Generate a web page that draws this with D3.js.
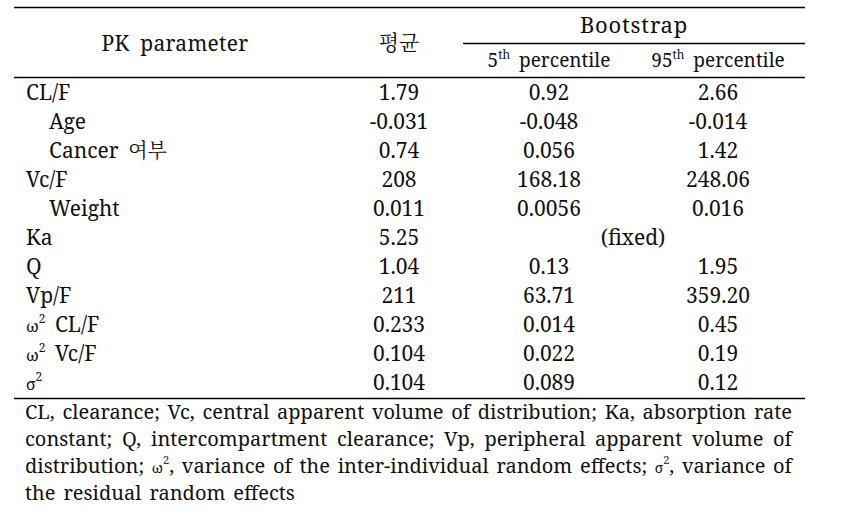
<!DOCTYPE html>
<html><head><meta charset="utf-8">
<script src="https://cdn.jsdelivr.net/npm/d3@7"></script>
<style>html,body{margin:0;padding:0;background:#fff;}svg{display:block;}</style>
</head><body>
<script>
// ---- data ----
const paramLabels = ["CL/F","Age","Cancer 여부","Vc/F","Weight","Ka","Q","Vp/F","ω^2 CL/F","ω^2 Vc/F","σ^2"];
const paramLevel  = [0,1,1,0,1,0,0,0,0,0,0];
const meanValues  = ["1.79","-0.031","0.74","208","0.011","5.25","1.04","211","0.233","0.104","0.104"];
const p5Values    = ["0.92","-0.048","0.056","168.18","0.0056",null,"0.13","63.71","0.014","0.022","0.089"];
const p95Values   = ["2.66","-0.014","1.42","248.06","0.016",null,"1.95","359.20","0.45","0.19","0.12"];
const fixedNote   = "(fixed)";
const headParam = "PK parameter", headMean = "평균", headBoot = "Bootstrap";
const headP5 = ["5","th"," percentile"], headP95 = ["95","th"," percentile"];
const footnote = "CL, clearance; Vc, central apparent volume of distribution; Ka, absorption rate constant; Q, intercompartment clearance; Vp, peripheral apparent volume of distribution; ω^2, variance of the inter-individual random effects; σ^2, variance of the residual random effects";

// ---- layout ----
const W = 843, H = 512;
const serif = '"Noto Serif", serif';
const kr = '"Noto Serif CJK KR", serif';
const fs = 21;
const svg = d3.select("body").append("svg").attr("width", W).attr("height", H);

const left = 14, right = 805;
const y = d3.scaleBand().domain(d3.range(paramLabels.length)).range([77.5, 396.5]);
const x = d3.scaleOrdinal().domain(["mean","p5","p95"]).range([399, 549, 718]);
const ink = "#111";

function line(x1, x2, yy){
  svg.append("line").attr("x1",x1).attr("x2",x2).attr("y1",yy).attr("y2",yy)
    .attr("stroke","#000").attr("stroke-width",1.3);
}
line(left, right, 7.5);
line(463, right, 43.5);
line(left, right, 77.5);
line(left, right, 398.5);

function base(cy, size){ return cy + size*0.36; }

// header
const hg = svg.append("g").style("font-family", serif).style("font-size", fs+"px").attr("fill", ink);
hg.append("text").attr("x",175).attr("y",base(43,fs)).attr("text-anchor","middle")
  .attr("word-spacing", 5).attr("letter-spacing", 0.3).text(headParam);
hg.append("text").attr("x",x("mean")).attr("y",base(42,21)).attr("text-anchor","middle")
  .style("font-family",kr).style("font-size","21px").text(headMean);
hg.append("text").attr("x",634).attr("y",base(25,22)).attr("text-anchor","middle")
  .style("font-size","22px").attr("letter-spacing",0.8).text(headBoot);
[[headP5,"p5"],[headP95,"p95"]].forEach(([parts,k])=>{
  const t = hg.append("text").attr("x",x(k)).attr("y",base(60,19)).attr("text-anchor","middle").style("font-size","19px");
  t.append("tspan").text(parts[0]);
  t.append("tspan").style("font-size","12px").attr("dy",-8).text(parts[1]);
  t.append("tspan").attr("dy",8).attr("word-spacing",4).text(parts[2]);
});

// body
const body = svg.append("g").style("font-family", serif).style("font-size", fs+"px").attr("fill", ink);
paramLabels.forEach((lab,i)=>{
  const cy = y(i) + y.bandwidth()/2;
  const t = body.append("text").attr("x", paramLevel[i] ? 49 : 26).attr("y", base(cy,fs))
    .attr("word-spacing", 4);
  if(lab.includes("여부")){
    const [a,b] = lab.split(" ");
    t.append("tspan").text(a + " ");
    t.append("tspan").style("font-family",kr).style("font-size","20px").text(b);
  } else if(lab.includes("^")){
    const m = lab.match(/^(.)\^(\d)(.*)$/);
    t.append("tspan").style("font-size","16px").text(m[1]);
    t.append("tspan").style("font-size","12px").attr("dy",-9).text(m[2]);
    if(m[3]) t.append("tspan").attr("dy",9).text(m[3]);
  } else t.text(lab);
});

const cols = [["mean",meanValues],["p5",p5Values],["p95",p95Values]];
cols.forEach(([k,vals])=>{
  body.selectAll(null).data(vals.map((v,i)=>({v,i})).filter(d=>d.v!==null)).enter()
    .append("text").attr("x", x(k)).attr("y", d=>base(y(d.i)+y.bandwidth()/2, fs))
    .attr("text-anchor","middle").text(d=>d.v);
});
p5Values.forEach((v,i)=>{
  if(v===null){
    body.append("text").attr("x",633).attr("y",base(y(i)+y.bandwidth()/2,fs))
      .attr("text-anchor","middle").text(fixedNote);
  }
});

// footnote (justified)
const fsz = 20;
const fl = 25, fr = 792;
const fn = svg.append("g").style("font-family",serif).style("font-size",fsz+"px").attr("fill",ink);
const words = footnote.split(" ");
const lineBreaks = [[0,11],[11,20],[20,31],[31,words.length]];
const lineY = [412, 439, 466, 493];
lineBreaks.forEach(([a,b],li)=>{
  const ws = words.slice(a,b);
  const nodes = ws.map(w=>{
    const t = fn.append("text").attr("y", base(lineY[li],fsz));
    if(w.includes("^")){
      const m = w.match(/^(.)\^(\d)(.*)$/);
      t.append("tspan").style("font-size","14px").text(m[1]);
      t.append("tspan").style("font-size","11px").attr("dy",-9).text(m[2]);
      t.append("tspan").attr("dy",9).text(m[3]);
    } else t.text(w);
    return t;
  });
  const widths = nodes.map(n=>n.node().getComputedTextLength());
  const total = d3.sum(widths);
  const last = li === lineBreaks.length-1;
  const gap = last ? 8 : (fr - fl - total)/(ws.length-1);
  let cx = fl;
  nodes.forEach((n,j)=>{ n.attr("x", cx); cx += widths[j] + gap; });
});
</script>
</body></html>
